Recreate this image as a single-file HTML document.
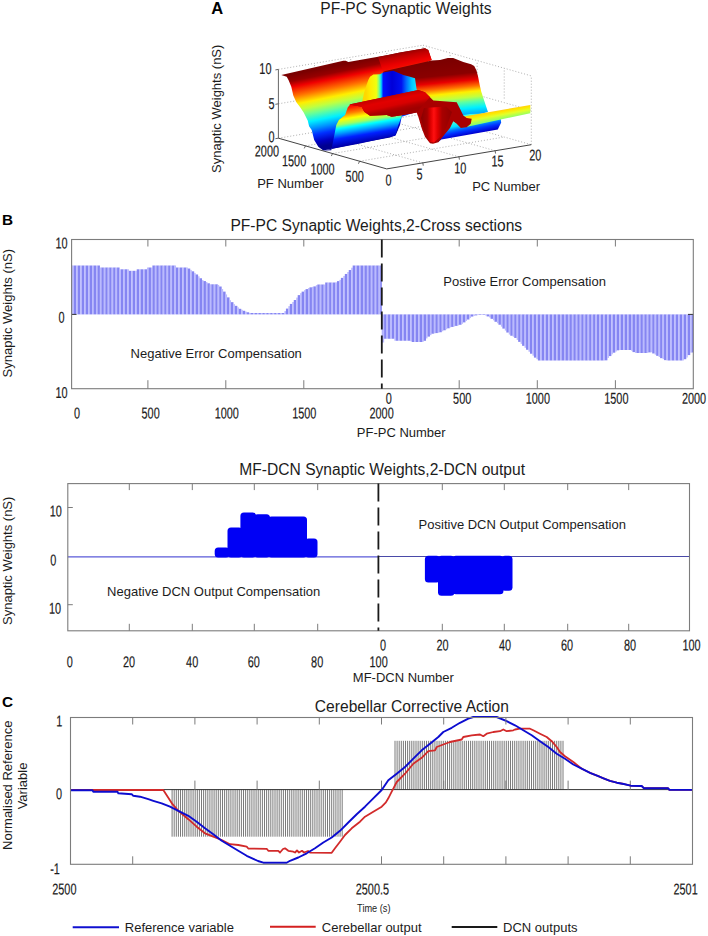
<!DOCTYPE html>
<html><head><meta charset="utf-8"><title>Figure</title>
<style>
html,body{margin:0;padding:0;background:#fff;width:708px;height:936px;overflow:hidden}
svg{display:block}
text{font-family:"Liberation Sans",sans-serif}
</style></head><body>
<svg width="708" height="936" viewBox="0 0 708 936">
<rect width="708" height="936" fill="#fff"/>
<text x="211.20" y="13.70" font-size="16.5" text-anchor="start" fill="#000" font-weight="bold">A</text>
<text x="2.00" y="225.00" font-size="15.3" text-anchor="start" fill="#000" font-weight="bold">B</text>
<text x="2.00" y="707.40" font-size="15.3" text-anchor="start" fill="#000" font-weight="bold">C</text>
<text x="405.90" y="13.70" font-size="15.6" text-anchor="middle" fill="#1c1c1c" font-weight="normal">PF-PC Synaptic Weights</text>
<text x="376.30" y="231.00" font-size="15.6" text-anchor="middle" fill="#1c1c1c" font-weight="normal">PF-PC Synaptic Weights,2-Cross sections</text>
<text x="382.20" y="474.80" font-size="15.6" text-anchor="middle" fill="#1c1c1c" font-weight="normal">MF-DCN Synaptic Weights,2-DCN output</text>
<text x="411.90" y="711.70" font-size="15.6" text-anchor="middle" fill="#1c1c1c" font-weight="normal">Cerebellar Corrective Action</text>
<rect x="71.60" y="265.50" width="0.85" height="48.90" fill="#8585f2"/>
<rect x="72.40" y="265.50" width="1.54" height="48.90" fill="#babaff"/>
<rect x="73.89" y="265.50" width="2.48" height="48.90" fill="#8585f2"/>
<rect x="76.33" y="265.50" width="1.54" height="48.90" fill="#babaff"/>
<rect x="77.82" y="265.50" width="2.48" height="48.90" fill="#8585f2"/>
<rect x="80.25" y="265.50" width="1.54" height="48.90" fill="#babaff"/>
<rect x="81.75" y="265.50" width="2.48" height="48.90" fill="#8585f2"/>
<rect x="84.18" y="265.50" width="1.54" height="48.90" fill="#babaff"/>
<rect x="85.67" y="265.50" width="2.48" height="48.90" fill="#8585f2"/>
<rect x="88.11" y="265.50" width="1.54" height="48.90" fill="#babaff"/>
<rect x="89.60" y="265.50" width="2.48" height="48.90" fill="#8585f2"/>
<rect x="92.03" y="265.50" width="1.54" height="48.90" fill="#babaff"/>
<rect x="93.53" y="265.50" width="2.48" height="48.90" fill="#8585f2"/>
<rect x="95.96" y="265.50" width="1.54" height="48.90" fill="#babaff"/>
<rect x="97.45" y="265.50" width="2.48" height="48.90" fill="#8585f2"/>
<rect x="99.89" y="267.50" width="1.54" height="46.90" fill="#babaff"/>
<rect x="101.38" y="267.50" width="2.48" height="46.90" fill="#8585f2"/>
<rect x="103.81" y="267.50" width="1.54" height="46.90" fill="#babaff"/>
<rect x="105.30" y="267.50" width="2.48" height="46.90" fill="#8585f2"/>
<rect x="107.74" y="267.50" width="1.54" height="46.90" fill="#babaff"/>
<rect x="109.23" y="267.50" width="2.48" height="46.90" fill="#8585f2"/>
<rect x="111.67" y="267.50" width="1.54" height="46.90" fill="#babaff"/>
<rect x="113.16" y="267.50" width="2.48" height="46.90" fill="#8585f2"/>
<rect x="115.59" y="267.50" width="1.54" height="46.90" fill="#babaff"/>
<rect x="117.08" y="267.50" width="2.48" height="46.90" fill="#8585f2"/>
<rect x="119.52" y="269.30" width="1.54" height="45.10" fill="#babaff"/>
<rect x="121.01" y="269.30" width="2.48" height="45.10" fill="#8585f2"/>
<rect x="123.45" y="269.30" width="1.54" height="45.10" fill="#babaff"/>
<rect x="124.94" y="269.30" width="2.48" height="45.10" fill="#8585f2"/>
<rect x="127.37" y="269.30" width="1.54" height="45.10" fill="#babaff"/>
<rect x="128.86" y="270.80" width="2.48" height="43.60" fill="#8585f2"/>
<rect x="131.30" y="270.80" width="1.54" height="43.60" fill="#babaff"/>
<rect x="132.79" y="270.80" width="2.48" height="43.60" fill="#8585f2"/>
<rect x="135.23" y="270.80" width="1.54" height="43.60" fill="#babaff"/>
<rect x="136.72" y="269.30" width="2.48" height="45.10" fill="#8585f2"/>
<rect x="139.15" y="269.30" width="1.54" height="45.10" fill="#babaff"/>
<rect x="140.64" y="269.30" width="2.48" height="45.10" fill="#8585f2"/>
<rect x="143.08" y="269.30" width="1.54" height="45.10" fill="#babaff"/>
<rect x="144.57" y="269.30" width="2.48" height="45.10" fill="#8585f2"/>
<rect x="147.01" y="267.50" width="1.54" height="46.90" fill="#babaff"/>
<rect x="148.50" y="267.50" width="2.48" height="46.90" fill="#8585f2"/>
<rect x="150.93" y="267.50" width="1.54" height="46.90" fill="#babaff"/>
<rect x="152.42" y="265.50" width="2.48" height="48.90" fill="#8585f2"/>
<rect x="154.86" y="265.50" width="1.54" height="48.90" fill="#babaff"/>
<rect x="156.35" y="265.50" width="2.48" height="48.90" fill="#8585f2"/>
<rect x="158.78" y="265.50" width="1.54" height="48.90" fill="#babaff"/>
<rect x="160.28" y="265.50" width="2.48" height="48.90" fill="#8585f2"/>
<rect x="162.71" y="265.50" width="1.54" height="48.90" fill="#babaff"/>
<rect x="164.20" y="265.50" width="2.48" height="48.90" fill="#8585f2"/>
<rect x="166.64" y="265.50" width="1.54" height="48.90" fill="#babaff"/>
<rect x="168.13" y="265.50" width="2.48" height="48.90" fill="#8585f2"/>
<rect x="170.56" y="265.50" width="1.54" height="48.90" fill="#babaff"/>
<rect x="172.06" y="265.50" width="2.48" height="48.90" fill="#8585f2"/>
<rect x="174.49" y="265.50" width="1.54" height="48.90" fill="#babaff"/>
<rect x="175.98" y="267.50" width="2.48" height="46.90" fill="#8585f2"/>
<rect x="178.42" y="267.50" width="1.54" height="46.90" fill="#babaff"/>
<rect x="179.91" y="267.50" width="2.48" height="46.90" fill="#8585f2"/>
<rect x="182.34" y="267.50" width="1.54" height="46.90" fill="#babaff"/>
<rect x="183.84" y="267.50" width="2.48" height="46.90" fill="#8585f2"/>
<rect x="186.27" y="267.50" width="1.54" height="46.90" fill="#babaff"/>
<rect x="187.76" y="268.54" width="2.48" height="45.86" fill="#8585f2"/>
<rect x="190.20" y="269.91" width="1.54" height="44.49" fill="#babaff"/>
<rect x="191.69" y="271.33" width="2.48" height="43.07" fill="#8585f2"/>
<rect x="194.12" y="272.90" width="1.54" height="41.50" fill="#babaff"/>
<rect x="195.62" y="274.47" width="2.48" height="39.93" fill="#8585f2"/>
<rect x="198.05" y="276.30" width="1.54" height="38.10" fill="#babaff"/>
<rect x="199.54" y="278.26" width="2.48" height="36.14" fill="#8585f2"/>
<rect x="201.98" y="280.11" width="1.54" height="34.29" fill="#babaff"/>
<rect x="203.47" y="281.09" width="2.48" height="33.31" fill="#8585f2"/>
<rect x="205.90" y="282.07" width="1.54" height="32.33" fill="#babaff"/>
<rect x="207.40" y="283.30" width="2.48" height="31.10" fill="#8585f2"/>
<rect x="209.83" y="284.30" width="1.54" height="30.10" fill="#babaff"/>
<rect x="211.32" y="284.30" width="2.48" height="30.10" fill="#8585f2"/>
<rect x="213.76" y="284.30" width="1.54" height="30.10" fill="#babaff"/>
<rect x="215.25" y="284.30" width="2.48" height="30.10" fill="#8585f2"/>
<rect x="217.68" y="284.93" width="1.54" height="29.47" fill="#babaff"/>
<rect x="219.18" y="286.51" width="2.48" height="27.89" fill="#8585f2"/>
<rect x="221.61" y="289.06" width="1.54" height="25.34" fill="#babaff"/>
<rect x="223.10" y="291.62" width="2.48" height="22.78" fill="#8585f2"/>
<rect x="225.54" y="294.42" width="1.54" height="19.98" fill="#babaff"/>
<rect x="227.03" y="297.37" width="2.48" height="17.03" fill="#8585f2"/>
<rect x="229.46" y="300.21" width="1.54" height="14.19" fill="#babaff"/>
<rect x="230.96" y="302.17" width="2.48" height="12.23" fill="#8585f2"/>
<rect x="233.39" y="304.14" width="1.54" height="10.26" fill="#babaff"/>
<rect x="234.88" y="305.84" width="2.48" height="8.56" fill="#8585f2"/>
<rect x="237.32" y="307.33" width="1.54" height="7.07" fill="#babaff"/>
<rect x="238.81" y="308.81" width="2.48" height="5.59" fill="#8585f2"/>
<rect x="241.24" y="309.79" width="1.54" height="4.61" fill="#babaff"/>
<rect x="242.74" y="310.78" width="2.48" height="3.62" fill="#8585f2"/>
<rect x="245.17" y="311.61" width="1.54" height="2.79" fill="#babaff"/>
<rect x="246.66" y="312.28" width="2.48" height="2.12" fill="#8585f2"/>
<rect x="249.10" y="312.95" width="1.54" height="1.45" fill="#babaff"/>
<rect x="250.59" y="313.00" width="2.48" height="1.40" fill="#8585f2"/>
<rect x="253.02" y="313.00" width="1.54" height="1.40" fill="#babaff"/>
<rect x="254.51" y="313.00" width="2.48" height="1.40" fill="#8585f2"/>
<rect x="256.95" y="313.00" width="1.54" height="1.40" fill="#babaff"/>
<rect x="258.44" y="313.00" width="2.48" height="1.40" fill="#8585f2"/>
<rect x="260.88" y="313.00" width="1.54" height="1.40" fill="#babaff"/>
<rect x="262.37" y="313.00" width="2.48" height="1.40" fill="#8585f2"/>
<rect x="264.80" y="313.00" width="1.54" height="1.40" fill="#babaff"/>
<rect x="266.29" y="313.00" width="2.48" height="1.40" fill="#8585f2"/>
<rect x="268.73" y="313.00" width="1.54" height="1.40" fill="#babaff"/>
<rect x="270.22" y="313.00" width="2.48" height="1.40" fill="#8585f2"/>
<rect x="272.66" y="313.00" width="1.54" height="1.40" fill="#babaff"/>
<rect x="274.15" y="313.00" width="2.48" height="1.40" fill="#8585f2"/>
<rect x="276.58" y="313.00" width="1.54" height="1.40" fill="#babaff"/>
<rect x="278.07" y="313.00" width="2.48" height="1.40" fill="#8585f2"/>
<rect x="280.51" y="313.00" width="1.54" height="1.40" fill="#babaff"/>
<rect x="282.00" y="313.00" width="2.48" height="1.40" fill="#8585f2"/>
<rect x="284.44" y="311.07" width="1.54" height="3.33" fill="#babaff"/>
<rect x="285.93" y="308.60" width="2.48" height="5.80" fill="#8585f2"/>
<rect x="288.36" y="306.12" width="1.54" height="8.28" fill="#babaff"/>
<rect x="289.85" y="303.93" width="2.48" height="10.47" fill="#8585f2"/>
<rect x="292.29" y="301.97" width="1.54" height="12.43" fill="#babaff"/>
<rect x="293.78" y="300.00" width="2.48" height="14.40" fill="#8585f2"/>
<rect x="296.22" y="297.57" width="1.54" height="16.83" fill="#babaff"/>
<rect x="297.71" y="295.13" width="2.48" height="19.27" fill="#8585f2"/>
<rect x="300.14" y="293.13" width="1.54" height="21.27" fill="#babaff"/>
<rect x="301.63" y="291.63" width="2.48" height="22.77" fill="#8585f2"/>
<rect x="304.07" y="290.14" width="1.54" height="24.26" fill="#babaff"/>
<rect x="305.56" y="289.11" width="2.48" height="25.29" fill="#8585f2"/>
<rect x="307.99" y="288.13" width="1.54" height="26.27" fill="#babaff"/>
<rect x="309.49" y="287.33" width="2.48" height="27.07" fill="#8585f2"/>
<rect x="311.92" y="286.86" width="1.54" height="27.54" fill="#babaff"/>
<rect x="313.41" y="286.39" width="2.48" height="28.01" fill="#8585f2"/>
<rect x="315.85" y="285.15" width="1.54" height="29.25" fill="#babaff"/>
<rect x="317.34" y="284.50" width="2.48" height="29.90" fill="#8585f2"/>
<rect x="319.77" y="284.50" width="1.54" height="29.90" fill="#babaff"/>
<rect x="321.27" y="284.50" width="2.48" height="29.90" fill="#8585f2"/>
<rect x="323.70" y="284.50" width="1.54" height="29.90" fill="#babaff"/>
<rect x="325.19" y="282.50" width="2.48" height="31.90" fill="#8585f2"/>
<rect x="327.63" y="282.50" width="1.54" height="31.90" fill="#babaff"/>
<rect x="329.12" y="282.50" width="2.48" height="31.90" fill="#8585f2"/>
<rect x="331.55" y="282.50" width="1.54" height="31.90" fill="#babaff"/>
<rect x="333.05" y="282.50" width="2.48" height="31.90" fill="#8585f2"/>
<rect x="335.48" y="282.36" width="1.54" height="32.04" fill="#babaff"/>
<rect x="336.97" y="281.13" width="2.48" height="33.27" fill="#8585f2"/>
<rect x="339.41" y="279.85" width="1.54" height="34.55" fill="#babaff"/>
<rect x="340.90" y="277.88" width="2.48" height="36.52" fill="#8585f2"/>
<rect x="343.33" y="275.92" width="1.54" height="38.48" fill="#babaff"/>
<rect x="344.83" y="273.96" width="2.48" height="40.44" fill="#8585f2"/>
<rect x="347.26" y="271.99" width="1.54" height="42.41" fill="#babaff"/>
<rect x="348.75" y="270.03" width="2.48" height="44.37" fill="#8585f2"/>
<rect x="351.19" y="267.71" width="1.54" height="46.69" fill="#babaff"/>
<rect x="352.68" y="265.50" width="2.48" height="48.90" fill="#8585f2"/>
<rect x="355.11" y="265.50" width="1.54" height="48.90" fill="#babaff"/>
<rect x="356.61" y="265.50" width="2.48" height="48.90" fill="#8585f2"/>
<rect x="359.04" y="265.50" width="1.54" height="48.90" fill="#babaff"/>
<rect x="360.53" y="265.50" width="2.48" height="48.90" fill="#8585f2"/>
<rect x="362.97" y="265.50" width="1.54" height="48.90" fill="#babaff"/>
<rect x="364.46" y="265.50" width="2.48" height="48.90" fill="#8585f2"/>
<rect x="366.89" y="265.50" width="1.54" height="48.90" fill="#babaff"/>
<rect x="368.39" y="265.50" width="2.48" height="48.90" fill="#8585f2"/>
<rect x="370.82" y="265.50" width="1.54" height="48.90" fill="#babaff"/>
<rect x="372.31" y="265.50" width="2.48" height="48.90" fill="#8585f2"/>
<rect x="374.75" y="265.50" width="1.54" height="48.90" fill="#babaff"/>
<rect x="376.24" y="265.50" width="2.48" height="48.90" fill="#8585f2"/>
<rect x="378.67" y="265.50" width="1.54" height="48.90" fill="#babaff"/>
<rect x="380.17" y="265.50" width="1.68" height="48.90" fill="#8585f2"/>
<rect x="381.80" y="314.40" width="0.85" height="28.10" fill="#8585f2"/>
<rect x="382.60" y="314.40" width="1.55" height="28.10" fill="#babaff"/>
<rect x="384.10" y="314.40" width="2.49" height="24.35" fill="#8585f2"/>
<rect x="386.54" y="314.40" width="1.55" height="24.35" fill="#babaff"/>
<rect x="388.04" y="314.40" width="2.49" height="24.35" fill="#8585f2"/>
<rect x="390.49" y="314.40" width="1.55" height="24.35" fill="#babaff"/>
<rect x="391.98" y="314.40" width="2.49" height="24.35" fill="#8585f2"/>
<rect x="394.43" y="314.40" width="1.55" height="26.35" fill="#babaff"/>
<rect x="395.93" y="314.40" width="2.49" height="26.35" fill="#8585f2"/>
<rect x="398.37" y="314.40" width="1.55" height="26.35" fill="#babaff"/>
<rect x="399.87" y="314.40" width="2.49" height="26.35" fill="#8585f2"/>
<rect x="402.32" y="314.40" width="1.55" height="26.35" fill="#babaff"/>
<rect x="403.81" y="314.40" width="2.49" height="26.35" fill="#8585f2"/>
<rect x="406.26" y="314.40" width="1.55" height="26.35" fill="#babaff"/>
<rect x="407.76" y="314.40" width="2.49" height="26.35" fill="#8585f2"/>
<rect x="410.20" y="314.40" width="1.55" height="26.83" fill="#babaff"/>
<rect x="411.70" y="314.40" width="2.49" height="27.60" fill="#8585f2"/>
<rect x="414.14" y="314.40" width="1.55" height="27.60" fill="#babaff"/>
<rect x="415.64" y="314.40" width="2.49" height="27.60" fill="#8585f2"/>
<rect x="418.09" y="314.40" width="1.55" height="27.60" fill="#babaff"/>
<rect x="419.59" y="314.40" width="2.49" height="27.60" fill="#8585f2"/>
<rect x="422.03" y="314.40" width="1.55" height="27.60" fill="#babaff"/>
<rect x="423.53" y="314.40" width="2.49" height="26.40" fill="#8585f2"/>
<rect x="425.97" y="314.40" width="1.55" height="24.03" fill="#babaff"/>
<rect x="427.47" y="314.40" width="2.49" height="22.20" fill="#8585f2"/>
<rect x="429.92" y="314.40" width="1.55" height="20.73" fill="#babaff"/>
<rect x="431.41" y="314.40" width="2.49" height="19.33" fill="#8585f2"/>
<rect x="433.86" y="314.40" width="1.55" height="19.00" fill="#babaff"/>
<rect x="435.36" y="314.40" width="2.49" height="18.67" fill="#8585f2"/>
<rect x="437.80" y="314.40" width="1.55" height="18.34" fill="#babaff"/>
<rect x="439.30" y="314.40" width="2.49" height="17.84" fill="#8585f2"/>
<rect x="441.75" y="314.40" width="1.55" height="16.85" fill="#babaff"/>
<rect x="443.24" y="314.40" width="2.49" height="15.87" fill="#8585f2"/>
<rect x="445.69" y="314.40" width="1.55" height="14.88" fill="#babaff"/>
<rect x="447.19" y="314.40" width="2.49" height="13.90" fill="#8585f2"/>
<rect x="449.63" y="314.40" width="1.55" height="13.00" fill="#babaff"/>
<rect x="451.13" y="314.40" width="2.49" height="12.51" fill="#8585f2"/>
<rect x="453.57" y="314.40" width="1.55" height="12.02" fill="#babaff"/>
<rect x="455.07" y="314.40" width="2.49" height="11.49" fill="#8585f2"/>
<rect x="457.52" y="314.40" width="1.55" height="10.94" fill="#babaff"/>
<rect x="459.02" y="314.40" width="2.49" height="10.38" fill="#8585f2"/>
<rect x="461.46" y="314.40" width="1.55" height="9.41" fill="#babaff"/>
<rect x="462.96" y="314.40" width="2.49" height="7.99" fill="#8585f2"/>
<rect x="465.40" y="314.40" width="1.55" height="6.57" fill="#babaff"/>
<rect x="466.90" y="314.40" width="2.49" height="5.13" fill="#8585f2"/>
<rect x="469.35" y="314.40" width="1.55" height="3.65" fill="#babaff"/>
<rect x="470.85" y="314.40" width="2.49" height="2.17" fill="#8585f2"/>
<rect x="473.29" y="314.40" width="1.55" height="1.47" fill="#babaff"/>
<rect x="474.79" y="314.40" width="2.49" height="0.97" fill="#8585f2"/>
<rect x="477.23" y="314.40" width="1.55" height="0.60" fill="#babaff"/>
<rect x="478.73" y="314.40" width="2.49" height="0.60" fill="#8585f2"/>
<rect x="481.18" y="314.40" width="1.55" height="0.60" fill="#babaff"/>
<rect x="482.67" y="314.40" width="2.49" height="0.60" fill="#8585f2"/>
<rect x="485.12" y="314.40" width="1.55" height="1.03" fill="#babaff"/>
<rect x="486.62" y="314.40" width="2.49" height="2.02" fill="#8585f2"/>
<rect x="489.06" y="314.40" width="1.55" height="3.01" fill="#babaff"/>
<rect x="490.56" y="314.40" width="2.49" height="4.44" fill="#8585f2"/>
<rect x="493.01" y="314.40" width="1.55" height="5.92" fill="#babaff"/>
<rect x="494.50" y="314.40" width="2.49" height="7.39" fill="#8585f2"/>
<rect x="496.95" y="314.40" width="1.55" height="8.87" fill="#babaff"/>
<rect x="498.45" y="314.40" width="2.49" height="10.35" fill="#8585f2"/>
<rect x="500.89" y="314.40" width="1.55" height="12.24" fill="#babaff"/>
<rect x="502.39" y="314.40" width="2.49" height="14.21" fill="#8585f2"/>
<rect x="504.83" y="314.40" width="1.55" height="16.18" fill="#babaff"/>
<rect x="506.33" y="314.40" width="2.49" height="18.15" fill="#8585f2"/>
<rect x="508.78" y="314.40" width="1.55" height="20.13" fill="#babaff"/>
<rect x="510.28" y="314.40" width="2.49" height="21.35" fill="#8585f2"/>
<rect x="512.72" y="314.40" width="1.55" height="22.33" fill="#babaff"/>
<rect x="514.22" y="314.40" width="2.49" height="23.54" fill="#8585f2"/>
<rect x="516.66" y="314.40" width="1.55" height="25.51" fill="#babaff"/>
<rect x="518.16" y="314.40" width="2.49" height="27.48" fill="#8585f2"/>
<rect x="520.61" y="314.40" width="1.55" height="29.46" fill="#babaff"/>
<rect x="522.10" y="314.40" width="2.49" height="31.43" fill="#8585f2"/>
<rect x="524.55" y="314.40" width="1.55" height="33.40" fill="#babaff"/>
<rect x="526.05" y="314.40" width="2.49" height="35.37" fill="#8585f2"/>
<rect x="528.49" y="314.40" width="1.55" height="37.34" fill="#babaff"/>
<rect x="529.99" y="314.40" width="2.49" height="39.31" fill="#8585f2"/>
<rect x="532.44" y="314.40" width="1.55" height="41.28" fill="#babaff"/>
<rect x="533.93" y="314.40" width="2.49" height="43.22" fill="#8585f2"/>
<rect x="536.38" y="314.40" width="1.55" height="44.80" fill="#babaff"/>
<rect x="537.88" y="314.40" width="2.49" height="46.10" fill="#8585f2"/>
<rect x="540.32" y="314.40" width="1.55" height="46.10" fill="#babaff"/>
<rect x="541.82" y="314.40" width="2.49" height="46.10" fill="#8585f2"/>
<rect x="544.26" y="314.40" width="1.55" height="46.10" fill="#babaff"/>
<rect x="545.76" y="314.40" width="2.49" height="46.10" fill="#8585f2"/>
<rect x="548.21" y="314.40" width="1.55" height="46.10" fill="#babaff"/>
<rect x="549.71" y="314.40" width="2.49" height="46.10" fill="#8585f2"/>
<rect x="552.15" y="314.40" width="1.55" height="46.10" fill="#babaff"/>
<rect x="553.65" y="314.40" width="2.49" height="46.10" fill="#8585f2"/>
<rect x="556.09" y="314.40" width="1.55" height="46.10" fill="#babaff"/>
<rect x="557.59" y="314.40" width="2.49" height="46.10" fill="#8585f2"/>
<rect x="560.04" y="314.40" width="1.55" height="46.10" fill="#babaff"/>
<rect x="561.54" y="314.40" width="2.49" height="46.10" fill="#8585f2"/>
<rect x="563.98" y="314.40" width="1.55" height="46.10" fill="#babaff"/>
<rect x="565.48" y="314.40" width="2.49" height="46.10" fill="#8585f2"/>
<rect x="567.92" y="314.40" width="1.55" height="46.10" fill="#babaff"/>
<rect x="569.42" y="314.40" width="2.49" height="46.10" fill="#8585f2"/>
<rect x="571.87" y="314.40" width="1.55" height="46.10" fill="#babaff"/>
<rect x="573.36" y="314.40" width="2.49" height="46.10" fill="#8585f2"/>
<rect x="575.81" y="314.40" width="1.55" height="46.10" fill="#babaff"/>
<rect x="577.31" y="314.40" width="2.49" height="46.10" fill="#8585f2"/>
<rect x="579.75" y="314.40" width="1.55" height="46.10" fill="#babaff"/>
<rect x="581.25" y="314.40" width="2.49" height="46.10" fill="#8585f2"/>
<rect x="583.69" y="314.40" width="1.55" height="46.10" fill="#babaff"/>
<rect x="585.19" y="314.40" width="2.49" height="46.10" fill="#8585f2"/>
<rect x="587.64" y="314.40" width="1.55" height="46.10" fill="#babaff"/>
<rect x="589.14" y="314.40" width="2.49" height="46.10" fill="#8585f2"/>
<rect x="591.58" y="314.40" width="1.55" height="46.10" fill="#babaff"/>
<rect x="593.08" y="314.40" width="2.49" height="46.10" fill="#8585f2"/>
<rect x="595.52" y="314.40" width="1.55" height="46.10" fill="#babaff"/>
<rect x="597.02" y="314.40" width="2.49" height="46.10" fill="#8585f2"/>
<rect x="599.47" y="314.40" width="1.55" height="46.10" fill="#babaff"/>
<rect x="600.97" y="314.40" width="2.49" height="46.10" fill="#8585f2"/>
<rect x="603.41" y="314.40" width="1.55" height="46.10" fill="#babaff"/>
<rect x="604.91" y="314.40" width="2.49" height="45.94" fill="#8585f2"/>
<rect x="607.35" y="314.40" width="1.55" height="43.58" fill="#babaff"/>
<rect x="608.85" y="314.40" width="2.49" height="41.68" fill="#8585f2"/>
<rect x="611.30" y="314.40" width="1.55" height="39.91" fill="#babaff"/>
<rect x="612.79" y="314.40" width="2.49" height="38.29" fill="#8585f2"/>
<rect x="615.24" y="314.40" width="1.55" height="37.11" fill="#babaff"/>
<rect x="616.74" y="314.40" width="2.49" height="35.92" fill="#8585f2"/>
<rect x="619.18" y="314.40" width="1.55" height="35.60" fill="#babaff"/>
<rect x="620.68" y="314.40" width="2.49" height="35.60" fill="#8585f2"/>
<rect x="623.13" y="314.40" width="1.55" height="35.60" fill="#babaff"/>
<rect x="624.62" y="314.40" width="2.49" height="35.60" fill="#8585f2"/>
<rect x="627.07" y="314.40" width="1.55" height="35.60" fill="#babaff"/>
<rect x="628.57" y="314.40" width="2.49" height="35.60" fill="#8585f2"/>
<rect x="631.01" y="314.40" width="1.55" height="36.21" fill="#babaff"/>
<rect x="632.51" y="314.40" width="2.49" height="37.69" fill="#8585f2"/>
<rect x="634.95" y="314.40" width="1.55" height="38.48" fill="#babaff"/>
<rect x="636.45" y="314.40" width="2.49" height="38.60" fill="#8585f2"/>
<rect x="638.90" y="314.40" width="1.55" height="38.60" fill="#babaff"/>
<rect x="640.40" y="314.40" width="2.49" height="38.60" fill="#8585f2"/>
<rect x="642.84" y="314.40" width="1.55" height="38.60" fill="#babaff"/>
<rect x="644.34" y="314.40" width="2.49" height="38.60" fill="#8585f2"/>
<rect x="646.78" y="314.40" width="1.55" height="38.47" fill="#babaff"/>
<rect x="648.28" y="314.40" width="2.49" height="37.97" fill="#8585f2"/>
<rect x="650.73" y="314.40" width="1.55" height="37.89" fill="#babaff"/>
<rect x="652.22" y="314.40" width="2.49" height="39.07" fill="#8585f2"/>
<rect x="654.67" y="314.40" width="1.55" height="40.25" fill="#babaff"/>
<rect x="656.17" y="314.40" width="2.49" height="41.43" fill="#8585f2"/>
<rect x="658.61" y="314.40" width="1.55" height="42.62" fill="#babaff"/>
<rect x="660.11" y="314.40" width="2.49" height="43.77" fill="#8585f2"/>
<rect x="662.56" y="314.40" width="1.55" height="44.75" fill="#babaff"/>
<rect x="664.05" y="314.40" width="2.49" height="45.74" fill="#8585f2"/>
<rect x="666.50" y="314.40" width="1.55" height="46.10" fill="#babaff"/>
<rect x="668.00" y="314.40" width="2.49" height="46.10" fill="#8585f2"/>
<rect x="670.44" y="314.40" width="1.55" height="46.10" fill="#babaff"/>
<rect x="671.94" y="314.40" width="2.49" height="46.10" fill="#8585f2"/>
<rect x="674.38" y="314.40" width="1.55" height="46.10" fill="#babaff"/>
<rect x="675.88" y="314.40" width="2.49" height="46.10" fill="#8585f2"/>
<rect x="678.33" y="314.40" width="1.55" height="46.10" fill="#babaff"/>
<rect x="679.83" y="314.40" width="2.49" height="46.10" fill="#8585f2"/>
<rect x="682.27" y="314.40" width="1.55" height="46.10" fill="#babaff"/>
<rect x="683.77" y="314.40" width="2.49" height="44.82" fill="#8585f2"/>
<rect x="686.21" y="314.40" width="1.55" height="43.13" fill="#babaff"/>
<rect x="687.71" y="314.40" width="2.49" height="40.68" fill="#8585f2"/>
<rect x="690.16" y="314.40" width="1.55" height="38.22" fill="#babaff"/>
<rect x="691.66" y="314.40" width="1.69" height="38.10" fill="#8585f2"/>
<line x1="71.60" y1="314.40" x2="76.50" y2="314.40" stroke="#333" stroke-width="1"/>
<line x1="688.00" y1="314.40" x2="693.30" y2="314.40" stroke="#333" stroke-width="1"/>
<rect x="71.6" y="239.5" width="621.70" height="149.20" fill="none" stroke="#7c7c7c" stroke-width="1.1"/>
<line x1="147.90" y1="239.50" x2="147.90" y2="246.50" stroke="#7c7c7c" stroke-width="1"/>
<line x1="147.90" y1="388.70" x2="147.90" y2="380.20" stroke="#7c7c7c" stroke-width="1"/>
<line x1="225.80" y1="239.50" x2="225.80" y2="246.50" stroke="#7c7c7c" stroke-width="1"/>
<line x1="225.80" y1="388.70" x2="225.80" y2="380.20" stroke="#7c7c7c" stroke-width="1"/>
<line x1="303.80" y1="239.50" x2="303.80" y2="246.50" stroke="#7c7c7c" stroke-width="1"/>
<line x1="303.80" y1="388.70" x2="303.80" y2="380.20" stroke="#7c7c7c" stroke-width="1"/>
<line x1="459.20" y1="239.50" x2="459.20" y2="246.50" stroke="#7c7c7c" stroke-width="1"/>
<line x1="459.20" y1="388.70" x2="459.20" y2="380.20" stroke="#7c7c7c" stroke-width="1"/>
<line x1="537.30" y1="239.50" x2="537.30" y2="246.50" stroke="#7c7c7c" stroke-width="1"/>
<line x1="537.30" y1="388.70" x2="537.30" y2="380.20" stroke="#7c7c7c" stroke-width="1"/>
<line x1="615.40" y1="239.50" x2="615.40" y2="246.50" stroke="#7c7c7c" stroke-width="1"/>
<line x1="615.40" y1="388.70" x2="615.40" y2="380.20" stroke="#7c7c7c" stroke-width="1"/>
<line x1="381.80" y1="239.50" x2="381.80" y2="388.70" stroke="#1a1a1a" stroke-width="1.8" stroke-dasharray="18,6"/>
<text transform="translate(61.60,248.60) rotate(0.05) scale(0.3450,0.5)" x="0" y="0" font-size="31.60" text-anchor="middle" fill="#1c1c1c" stroke="#1c1c1c" stroke-width="0.40">10</text>
<text transform="translate(61.60,322.80) rotate(0.05) scale(0.3450,0.5)" x="0" y="0" font-size="31.60" text-anchor="middle" fill="#1c1c1c" stroke="#1c1c1c" stroke-width="0.40">0</text>
<text transform="translate(61.60,397.90) rotate(0.05) scale(0.3450,0.5)" x="0" y="0" font-size="31.60" text-anchor="middle" fill="#1c1c1c" stroke="#1c1c1c" stroke-width="0.40">10</text>
<text transform="translate(77.10,418.50) rotate(0.05) scale(0.3450,0.5)" x="0" y="0" font-size="31.60" text-anchor="middle" fill="#1c1c1c" stroke="#1c1c1c" stroke-width="0.40">0</text>
<text transform="translate(150.60,418.50) rotate(0.05) scale(0.3450,0.5)" x="0" y="0" font-size="31.60" text-anchor="middle" fill="#1c1c1c" stroke="#1c1c1c" stroke-width="0.40">500</text>
<text transform="translate(226.75,418.50) rotate(0.05) scale(0.3450,0.5)" x="0" y="0" font-size="31.60" text-anchor="middle" fill="#1c1c1c" stroke="#1c1c1c" stroke-width="0.40">1000</text>
<text transform="translate(304.25,418.50) rotate(0.05) scale(0.3450,0.5)" x="0" y="0" font-size="31.60" text-anchor="middle" fill="#1c1c1c" stroke="#1c1c1c" stroke-width="0.40">1500</text>
<text transform="translate(381.60,418.50) rotate(0.05) scale(0.3450,0.5)" x="0" y="0" font-size="31.60" text-anchor="middle" fill="#1c1c1c" stroke="#1c1c1c" stroke-width="0.40">2000</text>
<text transform="translate(388.80,403.80) rotate(0.05) scale(0.3450,0.5)" x="0" y="0" font-size="31.60" text-anchor="middle" fill="#1c1c1c" stroke="#1c1c1c" stroke-width="0.40">0</text>
<text transform="translate(462.20,403.80) rotate(0.05) scale(0.3450,0.5)" x="0" y="0" font-size="31.60" text-anchor="middle" fill="#1c1c1c" stroke="#1c1c1c" stroke-width="0.40">500</text>
<text transform="translate(537.85,403.80) rotate(0.05) scale(0.3450,0.5)" x="0" y="0" font-size="31.60" text-anchor="middle" fill="#1c1c1c" stroke="#1c1c1c" stroke-width="0.40">1000</text>
<text transform="translate(616.35,403.80) rotate(0.05) scale(0.3450,0.5)" x="0" y="0" font-size="31.60" text-anchor="middle" fill="#1c1c1c" stroke="#1c1c1c" stroke-width="0.40">1500</text>
<text transform="translate(694.00,403.80) rotate(0.05) scale(0.3450,0.5)" x="0" y="0" font-size="31.60" text-anchor="middle" fill="#1c1c1c" stroke="#1c1c1c" stroke-width="0.40">2000</text>
<text x="356.80" y="437.00" font-size="13" text-anchor="start" fill="#1c1c1c" font-weight="normal">PF-PC Number</text>
<text x="443.30" y="285.80" font-size="13" text-anchor="start" fill="#1c1c1c" font-weight="normal">Postive Error Compensation</text>
<text x="130.60" y="358.20" font-size="13" text-anchor="start" fill="#1c1c1c" font-weight="normal">Negative Error Compensation</text>
<text x="0.00" y="0.00" font-size="13" text-anchor="start" fill="#1c1c1c" font-weight="normal" transform="translate(12.1,377.4) rotate(-90)">Synaptic Weights (nS)</text>
<line x1="67.80" y1="556.90" x2="378.40" y2="556.90" stroke="#5a5ad8" stroke-width="1.3"/>
<line x1="378.40" y1="556.50" x2="689.50" y2="556.50" stroke="#4a4aa8" stroke-width="1.0"/>
<rect x="214.70" y="547.40" width="14.80" height="10.10" rx="3.5" fill="#0000f5"/>
<rect x="227.50" y="527.50" width="14.90" height="30.00" rx="3.5" fill="#0000f5"/>
<rect x="240.40" y="512.50" width="15.80" height="45.00" rx="3.5" fill="#0000f5"/>
<rect x="254.20" y="514.30" width="15.80" height="43.20" rx="3.5" fill="#0000f5"/>
<rect x="268.00" y="516.50" width="39.00" height="41.00" rx="3.5" fill="#0000f5"/>
<rect x="305.00" y="538.60" width="12.50" height="18.90" rx="3.5" fill="#0000f5"/>
<rect x="424.90" y="555.8" width="15.10" height="26.80" rx="3.5" fill="#0000f5"/>
<rect x="438.00" y="555.8" width="16.40" height="40.00" rx="3.5" fill="#0000f5"/>
<rect x="452.40" y="555.8" width="51.10" height="38.40" rx="3.5" fill="#0000f5"/>
<rect x="501.50" y="555.8" width="11.00" height="35.00" rx="3.5" fill="#0000f5"/>
<rect x="67.8" y="483.6" width="621.70" height="147.20" fill="none" stroke="#7c7c7c" stroke-width="1.1"/>
<line x1="129.30" y1="483.60" x2="129.30" y2="490.10" stroke="#7c7c7c" stroke-width="1"/>
<line x1="129.30" y1="630.80" x2="129.30" y2="623.80" stroke="#7c7c7c" stroke-width="1"/>
<line x1="192.30" y1="483.60" x2="192.30" y2="490.10" stroke="#7c7c7c" stroke-width="1"/>
<line x1="192.30" y1="630.80" x2="192.30" y2="623.80" stroke="#7c7c7c" stroke-width="1"/>
<line x1="254.30" y1="483.60" x2="254.30" y2="490.10" stroke="#7c7c7c" stroke-width="1"/>
<line x1="254.30" y1="630.80" x2="254.30" y2="623.80" stroke="#7c7c7c" stroke-width="1"/>
<line x1="317.70" y1="483.60" x2="317.70" y2="490.10" stroke="#7c7c7c" stroke-width="1"/>
<line x1="317.70" y1="630.80" x2="317.70" y2="623.80" stroke="#7c7c7c" stroke-width="1"/>
<line x1="442.30" y1="483.60" x2="442.30" y2="490.10" stroke="#7c7c7c" stroke-width="1"/>
<line x1="442.30" y1="630.80" x2="442.30" y2="623.80" stroke="#7c7c7c" stroke-width="1"/>
<line x1="504.30" y1="483.60" x2="504.30" y2="490.10" stroke="#7c7c7c" stroke-width="1"/>
<line x1="504.30" y1="630.80" x2="504.30" y2="623.80" stroke="#7c7c7c" stroke-width="1"/>
<line x1="567.70" y1="483.60" x2="567.70" y2="490.10" stroke="#7c7c7c" stroke-width="1"/>
<line x1="567.70" y1="630.80" x2="567.70" y2="623.80" stroke="#7c7c7c" stroke-width="1"/>
<line x1="628.70" y1="483.60" x2="628.70" y2="490.10" stroke="#7c7c7c" stroke-width="1"/>
<line x1="628.70" y1="630.80" x2="628.70" y2="623.80" stroke="#7c7c7c" stroke-width="1"/>
<line x1="67.80" y1="507.50" x2="72.80" y2="507.50" stroke="#7c7c7c" stroke-width="1"/>
<line x1="67.80" y1="604.70" x2="72.80" y2="604.70" stroke="#7c7c7c" stroke-width="1"/>
<line x1="378.40" y1="483.60" x2="378.40" y2="630.80" stroke="#1a1a1a" stroke-width="1.8" stroke-dasharray="18,6"/>
<text transform="translate(55.85,516.60) rotate(0.05) scale(0.3450,0.5)" x="0" y="0" font-size="31.60" text-anchor="middle" fill="#1c1c1c" stroke="#1c1c1c" stroke-width="0.40">10</text>
<text transform="translate(53.35,565.40) rotate(0.05) scale(0.3450,0.5)" x="0" y="0" font-size="31.60" text-anchor="middle" fill="#1c1c1c" stroke="#1c1c1c" stroke-width="0.40">0</text>
<text transform="translate(55.00,613.80) rotate(0.05) scale(0.3450,0.5)" x="0" y="0" font-size="31.60" text-anchor="middle" fill="#1c1c1c" stroke="#1c1c1c" stroke-width="0.40">10</text>
<text transform="translate(69.80,667.30) rotate(0.05) scale(0.3450,0.5)" x="0" y="0" font-size="31.60" text-anchor="middle" fill="#1c1c1c" stroke="#1c1c1c" stroke-width="0.40">0</text>
<text transform="translate(129.00,667.30) rotate(0.05) scale(0.3450,0.5)" x="0" y="0" font-size="31.60" text-anchor="middle" fill="#1c1c1c" stroke="#1c1c1c" stroke-width="0.40">20</text>
<text transform="translate(192.15,667.30) rotate(0.05) scale(0.3450,0.5)" x="0" y="0" font-size="31.60" text-anchor="middle" fill="#1c1c1c" stroke="#1c1c1c" stroke-width="0.40">40</text>
<text transform="translate(253.85,667.30) rotate(0.05) scale(0.3450,0.5)" x="0" y="0" font-size="31.60" text-anchor="middle" fill="#1c1c1c" stroke="#1c1c1c" stroke-width="0.40">60</text>
<text transform="translate(317.15,667.30) rotate(0.05) scale(0.3450,0.5)" x="0" y="0" font-size="31.60" text-anchor="middle" fill="#1c1c1c" stroke="#1c1c1c" stroke-width="0.40">80</text>
<text transform="translate(378.65,667.30) rotate(0.05) scale(0.3450,0.5)" x="0" y="0" font-size="31.60" text-anchor="middle" fill="#1c1c1c" stroke="#1c1c1c" stroke-width="0.40">100</text>
<text transform="translate(383.00,650.60) rotate(0.05) scale(0.3450,0.5)" x="0" y="0" font-size="31.60" text-anchor="middle" fill="#1c1c1c" stroke="#1c1c1c" stroke-width="0.40">0</text>
<text transform="translate(442.50,650.60) rotate(0.05) scale(0.3450,0.5)" x="0" y="0" font-size="31.60" text-anchor="middle" fill="#1c1c1c" stroke="#1c1c1c" stroke-width="0.40">20</text>
<text transform="translate(505.10,650.60) rotate(0.05) scale(0.3450,0.5)" x="0" y="0" font-size="31.60" text-anchor="middle" fill="#1c1c1c" stroke="#1c1c1c" stroke-width="0.40">40</text>
<text transform="translate(567.00,650.60) rotate(0.05) scale(0.3450,0.5)" x="0" y="0" font-size="31.60" text-anchor="middle" fill="#1c1c1c" stroke="#1c1c1c" stroke-width="0.40">60</text>
<text transform="translate(630.00,650.60) rotate(0.05) scale(0.3450,0.5)" x="0" y="0" font-size="31.60" text-anchor="middle" fill="#1c1c1c" stroke="#1c1c1c" stroke-width="0.40">80</text>
<text transform="translate(691.50,650.60) rotate(0.05) scale(0.3450,0.5)" x="0" y="0" font-size="31.60" text-anchor="middle" fill="#1c1c1c" stroke="#1c1c1c" stroke-width="0.40">100</text>
<text x="352.80" y="682.30" font-size="13" text-anchor="start" fill="#1c1c1c" font-weight="normal">MF-DCN Number</text>
<text x="418.60" y="528.80" font-size="13" text-anchor="start" fill="#1c1c1c" font-weight="normal">Positive DCN Output Compensation</text>
<text x="107.10" y="595.90" font-size="13" text-anchor="start" fill="#1c1c1c" font-weight="normal">Negative DCN Output Compensation</text>
<text x="0.00" y="0.00" font-size="13" text-anchor="start" fill="#1c1c1c" font-weight="normal" transform="translate(12.1,625.0) rotate(-90)">Synaptic Weights (nS)</text>
<line x1="172.10" y1="789.60" x2="172.10" y2="836.70" stroke="#7a7a7a" stroke-width="1.0"/>
<line x1="174.20" y1="789.60" x2="174.20" y2="836.70" stroke="#7a7a7a" stroke-width="1.0"/>
<line x1="176.30" y1="789.60" x2="176.30" y2="836.70" stroke="#7a7a7a" stroke-width="1.0"/>
<line x1="178.40" y1="789.60" x2="178.40" y2="836.70" stroke="#7a7a7a" stroke-width="1.0"/>
<line x1="180.50" y1="789.60" x2="180.50" y2="836.70" stroke="#7a7a7a" stroke-width="1.0"/>
<line x1="182.60" y1="789.60" x2="182.60" y2="836.70" stroke="#7a7a7a" stroke-width="1.0"/>
<line x1="184.70" y1="789.60" x2="184.70" y2="836.70" stroke="#7a7a7a" stroke-width="1.0"/>
<line x1="186.80" y1="789.60" x2="186.80" y2="836.70" stroke="#7a7a7a" stroke-width="1.0"/>
<line x1="188.90" y1="789.60" x2="188.90" y2="836.70" stroke="#7a7a7a" stroke-width="1.0"/>
<line x1="191.00" y1="789.60" x2="191.00" y2="836.70" stroke="#7a7a7a" stroke-width="1.0"/>
<line x1="193.10" y1="789.60" x2="193.10" y2="836.70" stroke="#7a7a7a" stroke-width="1.0"/>
<line x1="195.20" y1="789.60" x2="195.20" y2="836.70" stroke="#7a7a7a" stroke-width="1.0"/>
<line x1="197.30" y1="789.60" x2="197.30" y2="836.70" stroke="#7a7a7a" stroke-width="1.0"/>
<line x1="199.40" y1="789.60" x2="199.40" y2="836.70" stroke="#7a7a7a" stroke-width="1.0"/>
<line x1="201.50" y1="789.60" x2="201.50" y2="836.70" stroke="#7a7a7a" stroke-width="1.0"/>
<line x1="203.60" y1="789.60" x2="203.60" y2="836.70" stroke="#7a7a7a" stroke-width="1.0"/>
<line x1="205.70" y1="789.60" x2="205.70" y2="836.70" stroke="#7a7a7a" stroke-width="1.0"/>
<line x1="207.80" y1="789.60" x2="207.80" y2="836.70" stroke="#7a7a7a" stroke-width="1.0"/>
<line x1="209.90" y1="789.60" x2="209.90" y2="836.70" stroke="#7a7a7a" stroke-width="1.0"/>
<line x1="212.00" y1="789.60" x2="212.00" y2="836.70" stroke="#7a7a7a" stroke-width="1.0"/>
<line x1="214.10" y1="789.60" x2="214.10" y2="836.70" stroke="#7a7a7a" stroke-width="1.0"/>
<line x1="216.20" y1="789.60" x2="216.20" y2="836.70" stroke="#7a7a7a" stroke-width="1.0"/>
<line x1="218.30" y1="789.60" x2="218.30" y2="836.70" stroke="#7a7a7a" stroke-width="1.0"/>
<line x1="220.40" y1="789.60" x2="220.40" y2="836.70" stroke="#7a7a7a" stroke-width="1.0"/>
<line x1="222.50" y1="789.60" x2="222.50" y2="836.70" stroke="#7a7a7a" stroke-width="1.0"/>
<line x1="224.60" y1="789.60" x2="224.60" y2="836.70" stroke="#7a7a7a" stroke-width="1.0"/>
<line x1="226.70" y1="789.60" x2="226.70" y2="836.70" stroke="#7a7a7a" stroke-width="1.0"/>
<line x1="228.80" y1="789.60" x2="228.80" y2="836.70" stroke="#7a7a7a" stroke-width="1.0"/>
<line x1="230.90" y1="789.60" x2="230.90" y2="836.70" stroke="#7a7a7a" stroke-width="1.0"/>
<line x1="233.00" y1="789.60" x2="233.00" y2="836.70" stroke="#7a7a7a" stroke-width="1.0"/>
<line x1="235.10" y1="789.60" x2="235.10" y2="836.70" stroke="#7a7a7a" stroke-width="1.0"/>
<line x1="237.20" y1="789.60" x2="237.20" y2="836.70" stroke="#7a7a7a" stroke-width="1.0"/>
<line x1="239.30" y1="789.60" x2="239.30" y2="836.70" stroke="#7a7a7a" stroke-width="1.0"/>
<line x1="241.40" y1="789.60" x2="241.40" y2="836.70" stroke="#7a7a7a" stroke-width="1.0"/>
<line x1="243.50" y1="789.60" x2="243.50" y2="836.70" stroke="#7a7a7a" stroke-width="1.0"/>
<line x1="245.60" y1="789.60" x2="245.60" y2="836.70" stroke="#7a7a7a" stroke-width="1.0"/>
<line x1="247.70" y1="789.60" x2="247.70" y2="836.70" stroke="#7a7a7a" stroke-width="1.0"/>
<line x1="249.80" y1="789.60" x2="249.80" y2="836.70" stroke="#7a7a7a" stroke-width="1.0"/>
<line x1="251.90" y1="789.60" x2="251.90" y2="836.70" stroke="#7a7a7a" stroke-width="1.0"/>
<line x1="254.00" y1="789.60" x2="254.00" y2="836.70" stroke="#7a7a7a" stroke-width="1.0"/>
<line x1="256.10" y1="789.60" x2="256.10" y2="836.70" stroke="#7a7a7a" stroke-width="1.0"/>
<line x1="258.20" y1="789.60" x2="258.20" y2="836.70" stroke="#7a7a7a" stroke-width="1.0"/>
<line x1="260.30" y1="789.60" x2="260.30" y2="836.70" stroke="#7a7a7a" stroke-width="1.0"/>
<line x1="262.40" y1="789.60" x2="262.40" y2="836.70" stroke="#7a7a7a" stroke-width="1.0"/>
<line x1="264.50" y1="789.60" x2="264.50" y2="836.70" stroke="#7a7a7a" stroke-width="1.0"/>
<line x1="266.60" y1="789.60" x2="266.60" y2="836.70" stroke="#7a7a7a" stroke-width="1.0"/>
<line x1="268.70" y1="789.60" x2="268.70" y2="836.70" stroke="#7a7a7a" stroke-width="1.0"/>
<line x1="270.80" y1="789.60" x2="270.80" y2="836.70" stroke="#7a7a7a" stroke-width="1.0"/>
<line x1="272.90" y1="789.60" x2="272.90" y2="836.70" stroke="#7a7a7a" stroke-width="1.0"/>
<line x1="275.00" y1="789.60" x2="275.00" y2="836.70" stroke="#7a7a7a" stroke-width="1.0"/>
<line x1="277.10" y1="789.60" x2="277.10" y2="836.70" stroke="#7a7a7a" stroke-width="1.0"/>
<line x1="279.20" y1="789.60" x2="279.20" y2="836.70" stroke="#7a7a7a" stroke-width="1.0"/>
<line x1="281.30" y1="789.60" x2="281.30" y2="836.70" stroke="#7a7a7a" stroke-width="1.0"/>
<line x1="283.40" y1="789.60" x2="283.40" y2="836.70" stroke="#7a7a7a" stroke-width="1.0"/>
<line x1="285.50" y1="789.60" x2="285.50" y2="836.70" stroke="#7a7a7a" stroke-width="1.0"/>
<line x1="287.60" y1="789.60" x2="287.60" y2="836.70" stroke="#7a7a7a" stroke-width="1.0"/>
<line x1="289.70" y1="789.60" x2="289.70" y2="836.70" stroke="#7a7a7a" stroke-width="1.0"/>
<line x1="291.80" y1="789.60" x2="291.80" y2="836.70" stroke="#7a7a7a" stroke-width="1.0"/>
<line x1="293.90" y1="789.60" x2="293.90" y2="836.70" stroke="#7a7a7a" stroke-width="1.0"/>
<line x1="296.00" y1="789.60" x2="296.00" y2="836.70" stroke="#7a7a7a" stroke-width="1.0"/>
<line x1="298.10" y1="789.60" x2="298.10" y2="836.70" stroke="#7a7a7a" stroke-width="1.0"/>
<line x1="300.20" y1="789.60" x2="300.20" y2="836.70" stroke="#7a7a7a" stroke-width="1.0"/>
<line x1="302.30" y1="789.60" x2="302.30" y2="836.70" stroke="#7a7a7a" stroke-width="1.0"/>
<line x1="304.40" y1="789.60" x2="304.40" y2="836.70" stroke="#7a7a7a" stroke-width="1.0"/>
<line x1="306.50" y1="789.60" x2="306.50" y2="836.70" stroke="#7a7a7a" stroke-width="1.0"/>
<line x1="308.60" y1="789.60" x2="308.60" y2="836.70" stroke="#7a7a7a" stroke-width="1.0"/>
<line x1="310.70" y1="789.60" x2="310.70" y2="836.70" stroke="#7a7a7a" stroke-width="1.0"/>
<line x1="312.80" y1="789.60" x2="312.80" y2="836.70" stroke="#7a7a7a" stroke-width="1.0"/>
<line x1="314.90" y1="789.60" x2="314.90" y2="836.70" stroke="#7a7a7a" stroke-width="1.0"/>
<line x1="317.00" y1="789.60" x2="317.00" y2="836.70" stroke="#7a7a7a" stroke-width="1.0"/>
<line x1="319.10" y1="789.60" x2="319.10" y2="836.70" stroke="#7a7a7a" stroke-width="1.0"/>
<line x1="321.20" y1="789.60" x2="321.20" y2="836.70" stroke="#7a7a7a" stroke-width="1.0"/>
<line x1="323.30" y1="789.60" x2="323.30" y2="836.70" stroke="#7a7a7a" stroke-width="1.0"/>
<line x1="325.40" y1="789.60" x2="325.40" y2="836.70" stroke="#7a7a7a" stroke-width="1.0"/>
<line x1="327.50" y1="789.60" x2="327.50" y2="836.70" stroke="#7a7a7a" stroke-width="1.0"/>
<line x1="329.60" y1="789.60" x2="329.60" y2="836.70" stroke="#7a7a7a" stroke-width="1.0"/>
<line x1="331.70" y1="789.60" x2="331.70" y2="836.70" stroke="#7a7a7a" stroke-width="1.0"/>
<line x1="333.80" y1="789.60" x2="333.80" y2="836.70" stroke="#7a7a7a" stroke-width="1.0"/>
<line x1="335.90" y1="789.60" x2="335.90" y2="836.70" stroke="#7a7a7a" stroke-width="1.0"/>
<line x1="338.00" y1="789.60" x2="338.00" y2="836.70" stroke="#7a7a7a" stroke-width="1.0"/>
<line x1="340.10" y1="789.60" x2="340.10" y2="836.70" stroke="#7a7a7a" stroke-width="1.0"/>
<line x1="342.20" y1="789.60" x2="342.20" y2="836.70" stroke="#7a7a7a" stroke-width="1.0"/>
<line x1="395.00" y1="740.80" x2="395.00" y2="789.60" stroke="#7a7a7a" stroke-width="1.0"/>
<line x1="397.10" y1="740.80" x2="397.10" y2="789.60" stroke="#7a7a7a" stroke-width="1.0"/>
<line x1="399.20" y1="740.80" x2="399.20" y2="789.60" stroke="#7a7a7a" stroke-width="1.0"/>
<line x1="401.30" y1="740.80" x2="401.30" y2="789.60" stroke="#7a7a7a" stroke-width="1.0"/>
<line x1="403.40" y1="740.80" x2="403.40" y2="789.60" stroke="#7a7a7a" stroke-width="1.0"/>
<line x1="405.50" y1="740.80" x2="405.50" y2="789.60" stroke="#7a7a7a" stroke-width="1.0"/>
<line x1="407.60" y1="740.80" x2="407.60" y2="789.60" stroke="#7a7a7a" stroke-width="1.0"/>
<line x1="409.70" y1="740.80" x2="409.70" y2="789.60" stroke="#7a7a7a" stroke-width="1.0"/>
<line x1="411.80" y1="740.80" x2="411.80" y2="789.60" stroke="#7a7a7a" stroke-width="1.0"/>
<line x1="413.90" y1="740.80" x2="413.90" y2="789.60" stroke="#7a7a7a" stroke-width="1.0"/>
<line x1="416.00" y1="740.80" x2="416.00" y2="789.60" stroke="#7a7a7a" stroke-width="1.0"/>
<line x1="418.10" y1="740.80" x2="418.10" y2="789.60" stroke="#7a7a7a" stroke-width="1.0"/>
<line x1="420.20" y1="740.80" x2="420.20" y2="789.60" stroke="#7a7a7a" stroke-width="1.0"/>
<line x1="422.30" y1="740.80" x2="422.30" y2="789.60" stroke="#7a7a7a" stroke-width="1.0"/>
<line x1="424.40" y1="740.80" x2="424.40" y2="789.60" stroke="#7a7a7a" stroke-width="1.0"/>
<line x1="426.50" y1="740.80" x2="426.50" y2="789.60" stroke="#7a7a7a" stroke-width="1.0"/>
<line x1="428.60" y1="740.80" x2="428.60" y2="789.60" stroke="#7a7a7a" stroke-width="1.0"/>
<line x1="430.70" y1="740.80" x2="430.70" y2="789.60" stroke="#7a7a7a" stroke-width="1.0"/>
<line x1="432.80" y1="740.80" x2="432.80" y2="789.60" stroke="#7a7a7a" stroke-width="1.0"/>
<line x1="434.90" y1="740.80" x2="434.90" y2="789.60" stroke="#7a7a7a" stroke-width="1.0"/>
<line x1="437.00" y1="740.80" x2="437.00" y2="789.60" stroke="#7a7a7a" stroke-width="1.0"/>
<line x1="439.10" y1="740.80" x2="439.10" y2="789.60" stroke="#7a7a7a" stroke-width="1.0"/>
<line x1="441.20" y1="740.80" x2="441.20" y2="789.60" stroke="#7a7a7a" stroke-width="1.0"/>
<line x1="443.30" y1="740.80" x2="443.30" y2="789.60" stroke="#7a7a7a" stroke-width="1.0"/>
<line x1="445.40" y1="740.80" x2="445.40" y2="789.60" stroke="#7a7a7a" stroke-width="1.0"/>
<line x1="447.50" y1="740.80" x2="447.50" y2="789.60" stroke="#7a7a7a" stroke-width="1.0"/>
<line x1="449.60" y1="740.80" x2="449.60" y2="789.60" stroke="#7a7a7a" stroke-width="1.0"/>
<line x1="451.70" y1="740.80" x2="451.70" y2="789.60" stroke="#7a7a7a" stroke-width="1.0"/>
<line x1="453.80" y1="740.80" x2="453.80" y2="789.60" stroke="#7a7a7a" stroke-width="1.0"/>
<line x1="455.90" y1="740.80" x2="455.90" y2="789.60" stroke="#7a7a7a" stroke-width="1.0"/>
<line x1="458.00" y1="740.80" x2="458.00" y2="789.60" stroke="#7a7a7a" stroke-width="1.0"/>
<line x1="460.10" y1="740.80" x2="460.10" y2="789.60" stroke="#7a7a7a" stroke-width="1.0"/>
<line x1="462.20" y1="740.80" x2="462.20" y2="789.60" stroke="#7a7a7a" stroke-width="1.0"/>
<line x1="464.30" y1="740.80" x2="464.30" y2="789.60" stroke="#7a7a7a" stroke-width="1.0"/>
<line x1="466.40" y1="740.80" x2="466.40" y2="789.60" stroke="#7a7a7a" stroke-width="1.0"/>
<line x1="468.50" y1="740.80" x2="468.50" y2="789.60" stroke="#7a7a7a" stroke-width="1.0"/>
<line x1="470.60" y1="740.80" x2="470.60" y2="789.60" stroke="#7a7a7a" stroke-width="1.0"/>
<line x1="472.70" y1="740.80" x2="472.70" y2="789.60" stroke="#7a7a7a" stroke-width="1.0"/>
<line x1="474.80" y1="740.80" x2="474.80" y2="789.60" stroke="#7a7a7a" stroke-width="1.0"/>
<line x1="476.90" y1="740.80" x2="476.90" y2="789.60" stroke="#7a7a7a" stroke-width="1.0"/>
<line x1="479.00" y1="740.80" x2="479.00" y2="789.60" stroke="#7a7a7a" stroke-width="1.0"/>
<line x1="481.10" y1="740.80" x2="481.10" y2="789.60" stroke="#7a7a7a" stroke-width="1.0"/>
<line x1="483.20" y1="740.80" x2="483.20" y2="789.60" stroke="#7a7a7a" stroke-width="1.0"/>
<line x1="485.30" y1="740.80" x2="485.30" y2="789.60" stroke="#7a7a7a" stroke-width="1.0"/>
<line x1="487.40" y1="740.80" x2="487.40" y2="789.60" stroke="#7a7a7a" stroke-width="1.0"/>
<line x1="489.50" y1="740.80" x2="489.50" y2="789.60" stroke="#7a7a7a" stroke-width="1.0"/>
<line x1="491.60" y1="740.80" x2="491.60" y2="789.60" stroke="#7a7a7a" stroke-width="1.0"/>
<line x1="493.70" y1="740.80" x2="493.70" y2="789.60" stroke="#7a7a7a" stroke-width="1.0"/>
<line x1="495.80" y1="740.80" x2="495.80" y2="789.60" stroke="#7a7a7a" stroke-width="1.0"/>
<line x1="497.90" y1="740.80" x2="497.90" y2="789.60" stroke="#7a7a7a" stroke-width="1.0"/>
<line x1="500.00" y1="740.80" x2="500.00" y2="789.60" stroke="#7a7a7a" stroke-width="1.0"/>
<line x1="502.10" y1="740.80" x2="502.10" y2="789.60" stroke="#7a7a7a" stroke-width="1.0"/>
<line x1="504.20" y1="740.80" x2="504.20" y2="789.60" stroke="#7a7a7a" stroke-width="1.0"/>
<line x1="506.30" y1="740.80" x2="506.30" y2="789.60" stroke="#7a7a7a" stroke-width="1.0"/>
<line x1="508.40" y1="740.80" x2="508.40" y2="789.60" stroke="#7a7a7a" stroke-width="1.0"/>
<line x1="510.50" y1="740.80" x2="510.50" y2="789.60" stroke="#7a7a7a" stroke-width="1.0"/>
<line x1="512.60" y1="740.80" x2="512.60" y2="789.60" stroke="#7a7a7a" stroke-width="1.0"/>
<line x1="514.70" y1="740.80" x2="514.70" y2="789.60" stroke="#7a7a7a" stroke-width="1.0"/>
<line x1="516.80" y1="740.80" x2="516.80" y2="789.60" stroke="#7a7a7a" stroke-width="1.0"/>
<line x1="518.90" y1="740.80" x2="518.90" y2="789.60" stroke="#7a7a7a" stroke-width="1.0"/>
<line x1="521.00" y1="740.80" x2="521.00" y2="789.60" stroke="#7a7a7a" stroke-width="1.0"/>
<line x1="523.10" y1="740.80" x2="523.10" y2="789.60" stroke="#7a7a7a" stroke-width="1.0"/>
<line x1="525.20" y1="740.80" x2="525.20" y2="789.60" stroke="#7a7a7a" stroke-width="1.0"/>
<line x1="527.30" y1="740.80" x2="527.30" y2="789.60" stroke="#7a7a7a" stroke-width="1.0"/>
<line x1="529.40" y1="740.80" x2="529.40" y2="789.60" stroke="#7a7a7a" stroke-width="1.0"/>
<line x1="531.50" y1="740.80" x2="531.50" y2="789.60" stroke="#7a7a7a" stroke-width="1.0"/>
<line x1="533.60" y1="740.80" x2="533.60" y2="789.60" stroke="#7a7a7a" stroke-width="1.0"/>
<line x1="535.70" y1="740.80" x2="535.70" y2="789.60" stroke="#7a7a7a" stroke-width="1.0"/>
<line x1="537.80" y1="740.80" x2="537.80" y2="789.60" stroke="#7a7a7a" stroke-width="1.0"/>
<line x1="539.90" y1="740.80" x2="539.90" y2="789.60" stroke="#7a7a7a" stroke-width="1.0"/>
<line x1="542.00" y1="740.80" x2="542.00" y2="789.60" stroke="#7a7a7a" stroke-width="1.0"/>
<line x1="544.10" y1="740.80" x2="544.10" y2="789.60" stroke="#7a7a7a" stroke-width="1.0"/>
<line x1="546.20" y1="740.80" x2="546.20" y2="789.60" stroke="#7a7a7a" stroke-width="1.0"/>
<line x1="548.30" y1="740.80" x2="548.30" y2="789.60" stroke="#7a7a7a" stroke-width="1.0"/>
<line x1="550.40" y1="740.80" x2="550.40" y2="789.60" stroke="#7a7a7a" stroke-width="1.0"/>
<line x1="552.50" y1="740.80" x2="552.50" y2="789.60" stroke="#7a7a7a" stroke-width="1.0"/>
<line x1="554.60" y1="740.80" x2="554.60" y2="789.60" stroke="#7a7a7a" stroke-width="1.0"/>
<line x1="556.70" y1="740.80" x2="556.70" y2="789.60" stroke="#7a7a7a" stroke-width="1.0"/>
<line x1="558.80" y1="740.80" x2="558.80" y2="789.60" stroke="#7a7a7a" stroke-width="1.0"/>
<line x1="560.90" y1="740.80" x2="560.90" y2="789.60" stroke="#7a7a7a" stroke-width="1.0"/>
<line x1="563.00" y1="740.80" x2="563.00" y2="789.60" stroke="#7a7a7a" stroke-width="1.0"/>
<line x1="70.50" y1="789.60" x2="692.50" y2="789.60" stroke="#333" stroke-width="1"/>
<line x1="194.90" y1="789.60" x2="194.90" y2="780.60" stroke="#7c7c7c" stroke-width="1"/>
<line x1="257.10" y1="789.60" x2="257.10" y2="780.60" stroke="#7c7c7c" stroke-width="1"/>
<line x1="319.30" y1="789.60" x2="319.30" y2="780.60" stroke="#7c7c7c" stroke-width="1"/>
<line x1="381.50" y1="789.60" x2="381.50" y2="780.60" stroke="#7c7c7c" stroke-width="1"/>
<line x1="443.70" y1="789.60" x2="443.70" y2="780.60" stroke="#7c7c7c" stroke-width="1"/>
<line x1="505.90" y1="789.60" x2="505.90" y2="780.60" stroke="#7c7c7c" stroke-width="1"/>
<line x1="568.10" y1="789.60" x2="568.10" y2="780.60" stroke="#7c7c7c" stroke-width="1"/>
<line x1="630.30" y1="789.60" x2="630.30" y2="780.60" stroke="#7c7c7c" stroke-width="1"/>
<polyline points="70.50,790.00 163.30,790.00 172.50,804.20 178.30,810.80 188.30,819.20 196.70,826.70 205.00,833.30 213.30,836.70 221.70,840.00 230.00,844.20 238.30,845.00 246.70,846.70 248.30,848.50 266.70,848.80 268.30,850.80 278.30,850.80 280.00,852.50 283.00,849.00 285.00,848.30 288.30,850.80 293.30,851.70 295.00,852.50 297.00,850.50 299.00,852.50 302.00,850.80 304.00,852.50 308.00,851.00 310.00,852.60 331.70,852.80 335.00,848.30 340.00,841.70 345.00,835.00 351.70,828.30 360.00,821.70 365.00,816.70 373.30,811.70 381.70,806.70 385.90,802.40 388.30,798.30 391.70,791.70 393.30,788.70 396.70,782.00 405.00,773.70 413.30,763.70 421.70,757.80 428.30,751.20 435.00,750.30 436.70,747.00 443.30,744.50 450.00,742.00 461.70,739.50 463.30,737.00 471.70,735.30 480.00,734.50 483.30,736.20 486.70,733.70 493.30,732.00 500.00,731.20 503.30,729.50 506.70,731.20 513.30,730.30 515.00,729.50 520.00,728.70 530.00,728.70 533.30,730.30 540.00,733.70 546.70,737.00 551.70,741.20 556.70,747.00 560.00,752.00 565.00,756.20 573.30,762.00 581.70,768.70 590.00,772.80 598.30,776.20 602.90,778.10 609.90,780.90 616.80,782.70 623.70,784.00 630.60,785.70 641.70,786.00 643.80,788.20 668.00,788.20 669.40,789.90 692.50,789.90" fill="none" stroke="#d22a2a" stroke-width="1.8" stroke-linejoin="round"/>
<polyline points="70.50,790.30 92.50,790.30 93.30,791.70 117.50,791.70 118.30,793.30 131.70,794.20 133.30,795.80 140.00,796.70 148.30,799.20 153.30,800.80 161.70,803.30 170.00,806.70 178.30,810.80 188.30,815.80 196.70,821.70 205.00,828.30 213.30,834.20 221.70,840.80 230.00,845.80 238.30,850.80 246.70,855.80 255.00,859.70 258.00,861.00 263.30,862.70 286.70,862.70 290.00,860.80 298.30,857.50 306.70,853.30 315.00,848.30 323.30,842.50 331.70,837.50 340.00,830.80 348.30,822.50 356.70,814.20 365.00,806.70 373.30,798.30 381.70,790.00 388.30,780.30 396.70,773.70 405.00,767.00 413.30,758.70 421.70,750.30 430.00,743.70 438.30,737.00 443.30,732.00 451.70,727.80 460.00,722.80 468.30,718.70 473.30,717.00 496.70,717.00 506.70,721.20 515.00,725.30 523.30,730.30 531.70,735.30 540.00,741.20 548.30,747.00 556.70,753.70 565.00,758.70 573.30,764.50 581.70,768.70 590.00,772.80 598.30,776.20 602.90,778.10 609.90,780.90 616.80,782.70 623.70,784.00 630.60,785.70 641.70,786.00 643.80,788.20 668.00,788.20 669.40,789.90 692.50,789.90" fill="none" stroke="#0c0cd0" stroke-width="1.9" stroke-linejoin="round"/>
<rect x="70.5" y="717.5" width="622.00" height="146.80" fill="none" stroke="#7c7c7c" stroke-width="1.1"/>
<line x1="132.70" y1="717.50" x2="132.70" y2="724.50" stroke="#7c7c7c" stroke-width="1"/>
<line x1="194.90" y1="717.50" x2="194.90" y2="724.50" stroke="#7c7c7c" stroke-width="1"/>
<line x1="257.10" y1="717.50" x2="257.10" y2="724.50" stroke="#7c7c7c" stroke-width="1"/>
<line x1="319.30" y1="717.50" x2="319.30" y2="724.50" stroke="#7c7c7c" stroke-width="1"/>
<line x1="381.50" y1="717.50" x2="381.50" y2="724.50" stroke="#7c7c7c" stroke-width="1"/>
<line x1="443.70" y1="717.50" x2="443.70" y2="724.50" stroke="#7c7c7c" stroke-width="1"/>
<line x1="505.90" y1="717.50" x2="505.90" y2="724.50" stroke="#7c7c7c" stroke-width="1"/>
<line x1="568.10" y1="717.50" x2="568.10" y2="724.50" stroke="#7c7c7c" stroke-width="1"/>
<line x1="630.30" y1="717.50" x2="630.30" y2="724.50" stroke="#7c7c7c" stroke-width="1"/>
<line x1="132.70" y1="864.30" x2="132.70" y2="856.30" stroke="#7c7c7c" stroke-width="1"/>
<line x1="381.50" y1="864.30" x2="381.50" y2="856.30" stroke="#7c7c7c" stroke-width="1"/>
<line x1="443.70" y1="864.30" x2="443.70" y2="856.30" stroke="#7c7c7c" stroke-width="1"/>
<line x1="505.90" y1="864.30" x2="505.90" y2="856.30" stroke="#7c7c7c" stroke-width="1"/>
<line x1="568.10" y1="864.30" x2="568.10" y2="856.30" stroke="#7c7c7c" stroke-width="1"/>
<line x1="630.30" y1="864.30" x2="630.30" y2="856.30" stroke="#7c7c7c" stroke-width="1"/>
<text transform="translate(59.20,726.60) rotate(0.05) scale(0.3450,0.5)" x="0" y="0" font-size="31.60" text-anchor="middle" fill="#1c1c1c" stroke="#1c1c1c" stroke-width="0.40">1</text>
<text transform="translate(58.90,799.30) rotate(0.05) scale(0.3450,0.5)" x="0" y="0" font-size="31.60" text-anchor="middle" fill="#1c1c1c" stroke="#1c1c1c" stroke-width="0.40">0</text>
<text transform="translate(55.00,874.30) rotate(0.05) scale(0.3450,0.5)" x="0" y="0" font-size="31.60" text-anchor="middle" fill="#1c1c1c" stroke="#1c1c1c" stroke-width="0.40">-1</text>
<text transform="translate(64.35,894.60) rotate(0.05) scale(0.3450,0.5)" x="0" y="0" font-size="31.60" text-anchor="middle" fill="#1c1c1c" stroke="#1c1c1c" stroke-width="0.40">2500</text>
<text transform="translate(372.40,894.60) rotate(0.05) scale(0.3450,0.5)" x="0" y="0" font-size="31.60" text-anchor="middle" fill="#1c1c1c" stroke="#1c1c1c" stroke-width="0.40">2500.5</text>
<text transform="translate(685.60,894.60) rotate(0.05) scale(0.3450,0.5)" x="0" y="0" font-size="31.60" text-anchor="middle" fill="#1c1c1c" stroke="#1c1c1c" stroke-width="0.40">2501</text>
<text transform="translate(373.80,911.60) scale(0.815,1)" x="0" y="0" font-size="11.3" text-anchor="middle" fill="#1c1c1c" font-weight="normal">Time (s)</text>
<text x="0.00" y="0.00" font-size="13" text-anchor="start" fill="#1c1c1c" font-weight="normal" transform="translate(11.9,849.9) rotate(-90)">Normalised Reference</text>
<text x="0.00" y="0.00" font-size="13" text-anchor="middle" fill="#1c1c1c" font-weight="normal" transform="translate(26.6,786) rotate(-90)">Variable</text>
<line x1="72.70" y1="927.20" x2="119.00" y2="927.20" stroke="#1010d0" stroke-width="2"/>
<text x="124.80" y="932.30" font-size="13" text-anchor="start" fill="#1c1c1c" font-weight="normal">Reference variable</text>
<line x1="270.00" y1="926.80" x2="315.70" y2="926.80" stroke="#d42020" stroke-width="2"/>
<text x="321.80" y="932.30" font-size="13" text-anchor="start" fill="#1c1c1c" font-weight="normal">Cerebellar output</text>
<line x1="451.70" y1="927.00" x2="497.30" y2="927.00" stroke="#1a1a1a" stroke-width="2"/>
<text x="503.10" y="932.30" font-size="13" text-anchor="start" fill="#1c1c1c" font-weight="normal">DCN outputs</text>
<line x1="278.40" y1="103.80" x2="423.00" y2="79.60" stroke="#9a9a9a" stroke-width="0.8" stroke-dasharray="1,2"/>
<line x1="423.00" y1="79.60" x2="531.30" y2="110.30" stroke="#9a9a9a" stroke-width="0.8" stroke-dasharray="1,2"/>
<line x1="278.40" y1="69.40" x2="423.00" y2="45.20" stroke="#9a9a9a" stroke-width="0.8" stroke-dasharray="1,2"/>
<line x1="423.00" y1="45.20" x2="531.30" y2="75.90" stroke="#9a9a9a" stroke-width="0.8" stroke-dasharray="1,2"/>
<line x1="314.55" y1="132.15" x2="314.55" y2="63.35" stroke="#9a9a9a" stroke-width="0.8" stroke-dasharray="1,2"/>
<line x1="350.70" y1="126.10" x2="350.70" y2="57.30" stroke="#9a9a9a" stroke-width="0.8" stroke-dasharray="1,2"/>
<line x1="386.85" y1="120.05" x2="386.85" y2="51.25" stroke="#9a9a9a" stroke-width="0.8" stroke-dasharray="1,2"/>
<line x1="504.22" y1="98.50" x2="504.22" y2="68.22" stroke="#9a9a9a" stroke-width="0.8" stroke-dasharray="1,2"/>
<line x1="477.15" y1="90.82" x2="477.15" y2="60.55" stroke="#9a9a9a" stroke-width="0.8" stroke-dasharray="1,2"/>
<line x1="450.07" y1="83.15" x2="450.07" y2="52.87" stroke="#9a9a9a" stroke-width="0.8" stroke-dasharray="1,2"/>
<line x1="359.62" y1="161.22" x2="504.22" y2="137.02" stroke="#9a9a9a" stroke-width="0.8" stroke-dasharray="1,2"/>
<line x1="332.55" y1="153.55" x2="477.15" y2="129.35" stroke="#9a9a9a" stroke-width="0.8" stroke-dasharray="1,2"/>
<line x1="305.47" y1="145.88" x2="450.07" y2="121.67" stroke="#9a9a9a" stroke-width="0.8" stroke-dasharray="1,2"/>
<line x1="422.85" y1="162.85" x2="314.55" y2="132.15" stroke="#9a9a9a" stroke-width="0.8" stroke-dasharray="1,2"/>
<line x1="459.00" y1="156.80" x2="350.70" y2="126.10" stroke="#9a9a9a" stroke-width="0.8" stroke-dasharray="1,2"/>
<line x1="495.15" y1="150.75" x2="386.85" y2="120.05" stroke="#9a9a9a" stroke-width="0.8" stroke-dasharray="1,2"/>
<line x1="278.40" y1="138.20" x2="423.00" y2="114.00" stroke="#9a9a9a" stroke-width="0.8" stroke-dasharray="1,2"/>
<line x1="423.00" y1="114.00" x2="531.30" y2="144.70" stroke="#9a9a9a" stroke-width="0.8" stroke-dasharray="1,2"/>
<line x1="423.00" y1="114.00" x2="423.00" y2="45.20" stroke="#9a9a9a" stroke-width="0.8" stroke-dasharray="1,2"/>
<line x1="531.30" y1="144.70" x2="531.30" y2="75.90" stroke="#9a9a9a" stroke-width="0.8" stroke-dasharray="1,2"/>
<polygon points="281.3,75.0 286.7,76.7 288.5,80.0 291.3,86.7 293.3,95.4 296.2,102.1 300.0,106.9 303.8,112.7 307.7,120.4 309.1,126.2 311.7,130.0 314.2,140.0 318.3,146.7 323.3,150.5 360.0,143.0 390.0,137.5 395.8,135.0 400.0,125.0 401.7,116.7 416.0,112.0 416.7,90.0 410.0,71.0 431.7,60.0 428.3,50.0 425.0,48.3 400.0,52.5 388.0,55.0 348.3,62.0 345.8,60.8 343.3,60.8" fill="url(#gR1)"/>
<polygon points="378.0,57.1 388.0,55.0 400.0,52.5 425.0,48.3 428.3,50.0 431.7,60.0 405.0,66.0 385.0,70.8 383.0,71.5" fill="url(#gBR)"/>
<polygon points="385.0,71.0 431.7,60.5 440.0,60.0 447.8,58.1 453.2,58.1 463.3,62.0 471.1,64.3 474.2,65.9 476.5,70.5 478.1,76.8 479.6,84.5 481.2,91.5 483.5,98.5 485.8,105.5 487.4,110.2 488.0,112.0 465.0,118.0 441.7,125.0 432.0,138.0 424.0,125.0 419.0,112.0 416.7,90.0 405.0,80.0 385.0,80.0 383.0,72.0" fill="url(#gR3)"/>
<polygon points="436.0,124.0 441.7,118.5 470.0,114.0 500.0,113.0 501.2,122.6 497.8,129.4 441.3,139.5 438.0,142.2" fill="url(#gR8f)"/>
<polygon points="362.0,102.0 364.0,93.0 366.5,85.0 368.3,80.0 370.0,76.7 373.3,74.5 380.0,74.2 383.3,72.5 393.3,70.8 403.3,75.0 410.0,76.7 415.0,78.3 416.7,90.0 417.0,100.0 367.0,104.0" fill="url(#gR2)"/>
<polygon points="323.3,150.5 331.3,150.3 333.8,137.7 336.3,125.1 338.9,120.1 345.1,115.1 347.7,107.5 350.2,104.4 403.0,100.0 401.7,116.3 398.0,126.0 395.4,135.8 360.0,143.5" fill="url(#gR4)"/>
<polygon points="465.0,116.3 530.3,105.0 530.3,113.3 467.0,126.7 465.0,126.0" fill="url(#gR9)"/>
<polygon points="349.2,104.6 404.0,92.9 418.3,90.0 425.0,92.2 433.3,100.5 456.7,102.2 460.0,108.8 463.3,115.5 466.7,118.0 471.7,118.8 470.8,123.8 466.7,127.2 460.8,128.0 456.7,123.8 453.3,121.3 450.0,128.0 445.8,133.0 441.7,138.0 438.3,142.2 433.0,143.8 430.0,143.3 425.0,136.7 421.7,128.3 418.3,116.7 416.7,112.5 403.3,115.0 391.7,116.7 386.7,115.0 370.0,115.8 364.2,111.7 361.7,106.7" fill="#a80000"/>
<polygon points="349.2,104.6 404.0,92.9 418.3,90.0 425.0,92.2 430.0,97.0 416.7,112.5 403.3,115.0 391.7,116.7 386.7,115.0 370.0,115.8 364.2,111.7 361.7,106.7" fill="url(#gRidge)"/>
<polygon points="424.0,108.0 446.0,106.5 452.0,112.0 446.0,128.0 440.0,137.0 434.0,142.5 429.0,141.5 424.0,130.0 421.0,118.0" fill="url(#gR6)"/>
<line x1="278.40" y1="69.40" x2="278.40" y2="138.20" stroke="#666" stroke-width="1"/>
<line x1="278.40" y1="138.20" x2="386.70" y2="168.90" stroke="#444" stroke-width="1"/>
<line x1="386.70" y1="168.90" x2="531.30" y2="144.70" stroke="#444" stroke-width="1"/>
<line x1="359.62" y1="161.22" x2="358.43" y2="163.72" stroke="#555" stroke-width="0.9"/>
<line x1="332.55" y1="153.55" x2="331.35" y2="156.05" stroke="#555" stroke-width="0.9"/>
<line x1="305.47" y1="145.88" x2="304.27" y2="148.38" stroke="#555" stroke-width="0.9"/>
<line x1="422.85" y1="162.85" x2="423.25" y2="165.65" stroke="#555" stroke-width="0.9"/>
<line x1="459.00" y1="156.80" x2="459.40" y2="159.60" stroke="#555" stroke-width="0.9"/>
<line x1="495.15" y1="150.75" x2="495.55" y2="153.55" stroke="#555" stroke-width="0.9"/>
<line x1="278.40" y1="138.20" x2="275.40" y2="138.70" stroke="#666" stroke-width="1"/>
<line x1="278.40" y1="103.80" x2="275.40" y2="104.30" stroke="#666" stroke-width="1"/>
<line x1="278.40" y1="69.40" x2="275.40" y2="69.90" stroke="#666" stroke-width="1"/>
<text transform="translate(265.40,74.00) rotate(0.05) scale(0.3450,0.5)" x="0" y="0" font-size="31.60" text-anchor="middle" fill="#1c1c1c" stroke="#1c1c1c" stroke-width="0.40">10</text>
<text transform="translate(271.40,109.10) rotate(0.05) scale(0.3450,0.5)" x="0" y="0" font-size="31.60" text-anchor="middle" fill="#1c1c1c" stroke="#1c1c1c" stroke-width="0.40">5</text>
<text transform="translate(271.60,142.20) rotate(0.05) scale(0.3450,0.5)" x="0" y="0" font-size="31.60" text-anchor="middle" fill="#1c1c1c" stroke="#1c1c1c" stroke-width="0.40">0</text>
<text transform="translate(266.90,156.60) rotate(0.05) scale(0.3450,0.5)" x="0" y="0" font-size="31.60" text-anchor="middle" fill="#1c1c1c" stroke="#1c1c1c" stroke-width="0.40">2000</text>
<text transform="translate(294.10,166.30) rotate(0.05) scale(0.3450,0.5)" x="0" y="0" font-size="31.60" text-anchor="middle" fill="#1c1c1c" stroke="#1c1c1c" stroke-width="0.40">1500</text>
<text transform="translate(322.50,174.60) rotate(0.05) scale(0.3450,0.5)" x="0" y="0" font-size="31.60" text-anchor="middle" fill="#1c1c1c" stroke="#1c1c1c" stroke-width="0.40">1000</text>
<text transform="translate(354.70,181.80) rotate(0.05) scale(0.3450,0.5)" x="0" y="0" font-size="31.60" text-anchor="middle" fill="#1c1c1c" stroke="#1c1c1c" stroke-width="0.40">500</text>
<text transform="translate(388.50,185.40) rotate(0.05) scale(0.3450,0.5)" x="0" y="0" font-size="31.60" text-anchor="middle" fill="#1c1c1c" stroke="#1c1c1c" stroke-width="0.40">0</text>
<text transform="translate(419.60,179.40) rotate(0.05) scale(0.3450,0.5)" x="0" y="0" font-size="31.60" text-anchor="middle" fill="#1c1c1c" stroke="#1c1c1c" stroke-width="0.40">5</text>
<text transform="translate(460.20,173.60) rotate(0.05) scale(0.3450,0.5)" x="0" y="0" font-size="31.60" text-anchor="middle" fill="#1c1c1c" stroke="#1c1c1c" stroke-width="0.40">10</text>
<text transform="translate(497.60,166.40) rotate(0.05) scale(0.3450,0.5)" x="0" y="0" font-size="31.60" text-anchor="middle" fill="#1c1c1c" stroke="#1c1c1c" stroke-width="0.40">15</text>
<text transform="translate(535.20,160.60) rotate(0.05) scale(0.3450,0.5)" x="0" y="0" font-size="31.60" text-anchor="middle" fill="#1c1c1c" stroke="#1c1c1c" stroke-width="0.40">20</text>
<text x="257.20" y="188.30" font-size="13" text-anchor="start" fill="#1c1c1c" font-weight="normal">PF Number</text>
<text x="472.20" y="190.50" font-size="13" text-anchor="start" fill="#1c1c1c" font-weight="normal">PC Number</text>
<text x="0.00" y="0.00" font-size="13" text-anchor="start" fill="#1c1c1c" font-weight="normal" transform="translate(220.6,173.0) rotate(-90)">Synaptic Weights (nS)</text>
<defs><linearGradient id="gR1" gradientUnits="userSpaceOnUse" x1="304.90" y1="71.80" x2="319.90" y2="146.80"><stop offset="0" stop-color="#7a0000"/><stop offset="0.085" stop-color="#960000"/><stop offset="0.16" stop-color="#f00000"/><stop offset="0.28" stop-color="#ff7000"/><stop offset="0.39" stop-color="#ffee00"/><stop offset="0.47" stop-color="#c0ff40"/><stop offset="0.545" stop-color="#70ff90"/><stop offset="0.65" stop-color="#00f0ff"/><stop offset="0.745" stop-color="#0090ff"/><stop offset="0.83" stop-color="#0030ff"/><stop offset="0.93" stop-color="#0000c0"/><stop offset="1" stop-color="#000090"/></linearGradient><linearGradient id="gBR" gradientUnits="userSpaceOnUse" x1="400.00" y1="51.00" x2="403.65" y2="69.27"><stop offset="0" stop-color="#8a0000"/><stop offset="0.3" stop-color="#c00000"/><stop offset="0.65" stop-color="#ea0000"/><stop offset="1" stop-color="#f81000"/></linearGradient><linearGradient id="gR3" gradientUnits="userSpaceOnUse" x1="471.00" y1="55.80" x2="478.92" y2="135.01"><stop offset="0" stop-color="#7a0000"/><stop offset="0.21" stop-color="#8a0000"/><stop offset="0.3" stop-color="#e80000"/><stop offset="0.38" stop-color="#ff7000"/><stop offset="0.446" stop-color="#ffee00"/><stop offset="0.515" stop-color="#c0ff40"/><stop offset="0.57" stop-color="#60ffa0"/><stop offset="0.65" stop-color="#00f0ff"/><stop offset="0.72" stop-color="#00b0ff"/><stop offset="0.82" stop-color="#0040ff"/><stop offset="0.92" stop-color="#0000d0"/><stop offset="1" stop-color="#0000a0"/></linearGradient><linearGradient id="gR8f" gradientUnits="userSpaceOnUse" x1="460.00" y1="121.00" x2="463.65" y2="139.27"><stop offset="0" stop-color="#40ffe0"/><stop offset="0.24" stop-color="#00e0ff"/><stop offset="0.42" stop-color="#0070ff"/><stop offset="0.58" stop-color="#0030ff"/><stop offset="0.8" stop-color="#0000d0"/><stop offset="1" stop-color="#0000a0"/></linearGradient><linearGradient id="gR2" gradientUnits="userSpaceOnUse" x1="366.00" y1="0.00" x2="418.00" y2="0.00"><stop offset="0" stop-color="#ffd800"/><stop offset="0.08" stop-color="#ffec00"/><stop offset="0.2" stop-color="#f0ff10"/><stop offset="0.25" stop-color="#80ff80"/><stop offset="0.29" stop-color="#00e0ff"/><stop offset="0.33" stop-color="#0010ff"/><stop offset="0.5" stop-color="#0000d8"/><stop offset="0.68" stop-color="#0010f0"/><stop offset="0.78" stop-color="#0070ff"/><stop offset="0.88" stop-color="#00c8ff"/><stop offset="1" stop-color="#20e8ff"/></linearGradient><linearGradient id="gR4" gradientUnits="userSpaceOnUse" x1="353.30" y1="104.00" x2="360.12" y2="144.86"><stop offset="0" stop-color="#f00000"/><stop offset="0.05" stop-color="#ff1000"/><stop offset="0.2" stop-color="#ff8000"/><stop offset="0.32" stop-color="#ffff00"/><stop offset="0.44" stop-color="#a0ff60"/><stop offset="0.53" stop-color="#00ffff"/><stop offset="0.64" stop-color="#00a0ff"/><stop offset="0.77" stop-color="#0020ff"/><stop offset="0.95" stop-color="#0000b0"/><stop offset="1" stop-color="#000090"/></linearGradient><linearGradient id="gR9" gradientUnits="userSpaceOnUse" x1="500.00" y1="109.00" x2="501.79" y2="118.67"><stop offset="0" stop-color="#ffc020"/><stop offset="0.3" stop-color="#ffe400"/><stop offset="0.6" stop-color="#e4ff28"/><stop offset="1" stop-color="#98ff60"/></linearGradient><linearGradient id="gRidge" gradientUnits="userSpaceOnUse" x1="378.00" y1="99.20" x2="381.42" y2="115.27"><stop offset="0" stop-color="#c80000"/><stop offset="0.25" stop-color="#e20000"/><stop offset="0.55" stop-color="#d80000"/><stop offset="0.8" stop-color="#b00000"/><stop offset="1" stop-color="#a00000"/></linearGradient><linearGradient id="gR6" gradientUnits="userSpaceOnUse" x1="419.00" y1="0.00" x2="452.00" y2="0.00"><stop offset="0" stop-color="#800000"/><stop offset="0.25" stop-color="#a40000"/><stop offset="0.36" stop-color="#e00000"/><stop offset="0.45" stop-color="#ff1010"/><stop offset="0.56" stop-color="#e00000"/><stop offset="0.7" stop-color="#a80000"/><stop offset="1" stop-color="#900000"/></linearGradient></defs>
</svg>
</body></html>
